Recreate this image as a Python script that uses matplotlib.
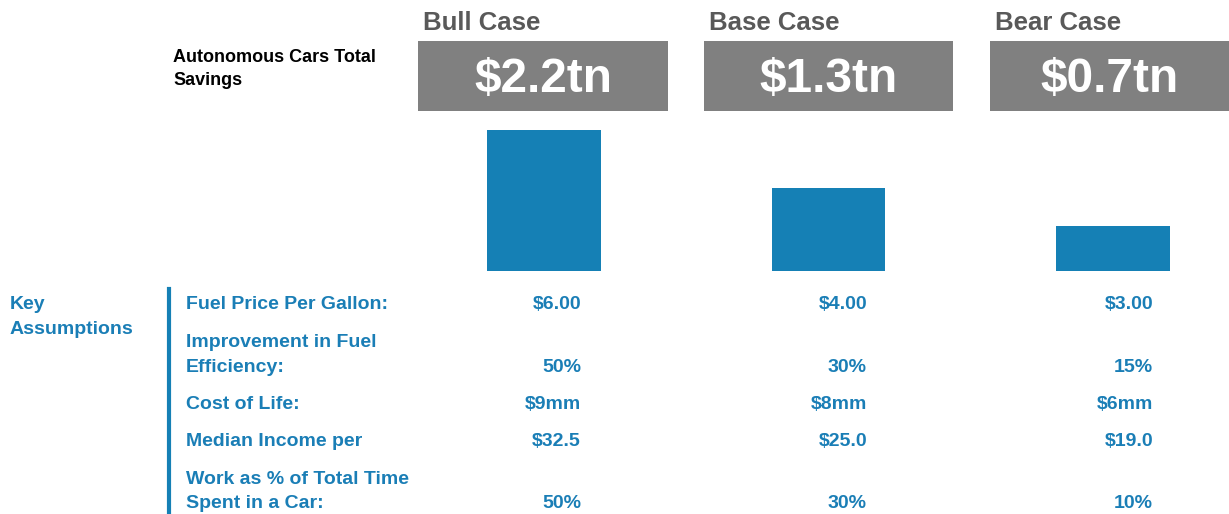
import matplotlib
matplotlib.use("Agg")
import matplotlib.pyplot as plt
from matplotlib.patches import Rectangle

# ---- data ----
cases = ["Bull Case", "Base Case", "Bear Case"]
savings_tn = [2.2, 1.3, 0.7]
savings_labels = ["$2.2tn", "$1.3tn", "$0.7tn"]
row_title = "Autonomous Cars Total\nSavings"
section_title = "Key\nAssumptions"
assumption_labels = [
    "Fuel Price Per Gallon:",
    "Improvement in Fuel\nEfficiency:",
    "Cost of Life:",
    "Median Income per",
    "Work as % of Total Time\nSpent in a Car:",
]
bull_values = ["$6.00", "50%", "$9mm", "$32.5", "50%"]
base_values = ["$4.00", "30%", "$8mm", "$25.0", "30%"]
bear_values = ["$3.00", "15%", "$6mm", "$19.0", "10%"]

# ---- style / layout ----
W, H = 1229, 514
BLUE = "#1580B5"
TXT_BLUE = "#1A7EB6"
GREY_BOX = "#808080"
GREY_TXT = "#595959"
FONT = ["Liberation Sans", "DejaVu Sans"]
plt.rcParams["font.family"] = FONT

fig = plt.figure(figsize=(W / 100, H / 100), dpi=100)
fig.patch.set_facecolor("white")


def fx(x):
    return x / W


def fy(y):
    return 1 - y / H


# bar axes (pixels: baseline y=271, bar centres ~544/828/1113)
spacing = 284.5
left_px = 544 - 0.5 * spacing
ax = fig.add_axes([fx(left_px), fy(271), fx(W - left_px), 151 / H])
xpos = list(range(len(cases)))
ax.bar(xpos, savings_tn, width=0.40, color=BLUE)
ax.set_xlim(-0.5, (W - 544) / spacing)
ax.set_ylim(0, 151 / 64.0)
ax.axis("off")

# header boxes
box_left = [418, 704, 990]
box_w = [250, 249, 239]
for i, case in enumerate(cases):
    fig.text(fx(box_left[i] + 5), fy(30), case, fontsize=18.5, fontweight="bold",
             color=GREY_TXT, ha="left", va="baseline")
    fig.add_artist(Rectangle((fx(box_left[i]), fy(111)), box_w[i] / W, 70 / H,
                             transform=fig.transFigure, facecolor=GREY_BOX,
                             edgecolor="none"))
    fig.text(fx(box_left[i] + box_w[i] / 2), fy(92), savings_labels[i],
             fontsize=34.5, fontweight="bold", color="white",
             ha="center", va="baseline")

# row title
for j, line in enumerate(row_title.split("\n")):
    fig.text(fx(173), fy(62 + 23 * j), line, fontsize=13, fontweight="bold",
             color="black", ha="left", va="baseline")

# key assumptions title
for j, line in enumerate(section_title.split("\n")):
    fig.text(fx(10), fy(309 + 25 * j), line, fontsize=14, fontweight="bold",
             color=TXT_BLUE, ha="left", va="baseline")

# vertical rule
fig.add_artist(plt.Line2D([fx(169), fx(169)], [fy(289), fy(514)],
                          transform=fig.transFigure, color=BLUE, linewidth=3))

# assumptions table
row_base = [309, 347, 409, 446, 484]
line_gap = 24.5
value_right = [581, 867, 1153]
columns = [bull_values, base_values, bear_values]
for r, label in enumerate(assumption_labels):
    lines = label.split("\n")
    for j, line in enumerate(lines):
        fig.text(fx(186), fy(row_base[r] + line_gap * j), line, fontsize=14,
                 fontweight="bold", color=TXT_BLUE, ha="left", va="baseline")
    y_val = row_base[r] + line_gap * (len(lines) - 1)
    for c, vals in enumerate(columns):
        fig.text(fx(value_right[c]), fy(y_val), vals[r], fontsize=14,
                 fontweight="bold", color=TXT_BLUE, ha="right", va="baseline")

fig.savefig("out.png", dpi=100, facecolor="white")
